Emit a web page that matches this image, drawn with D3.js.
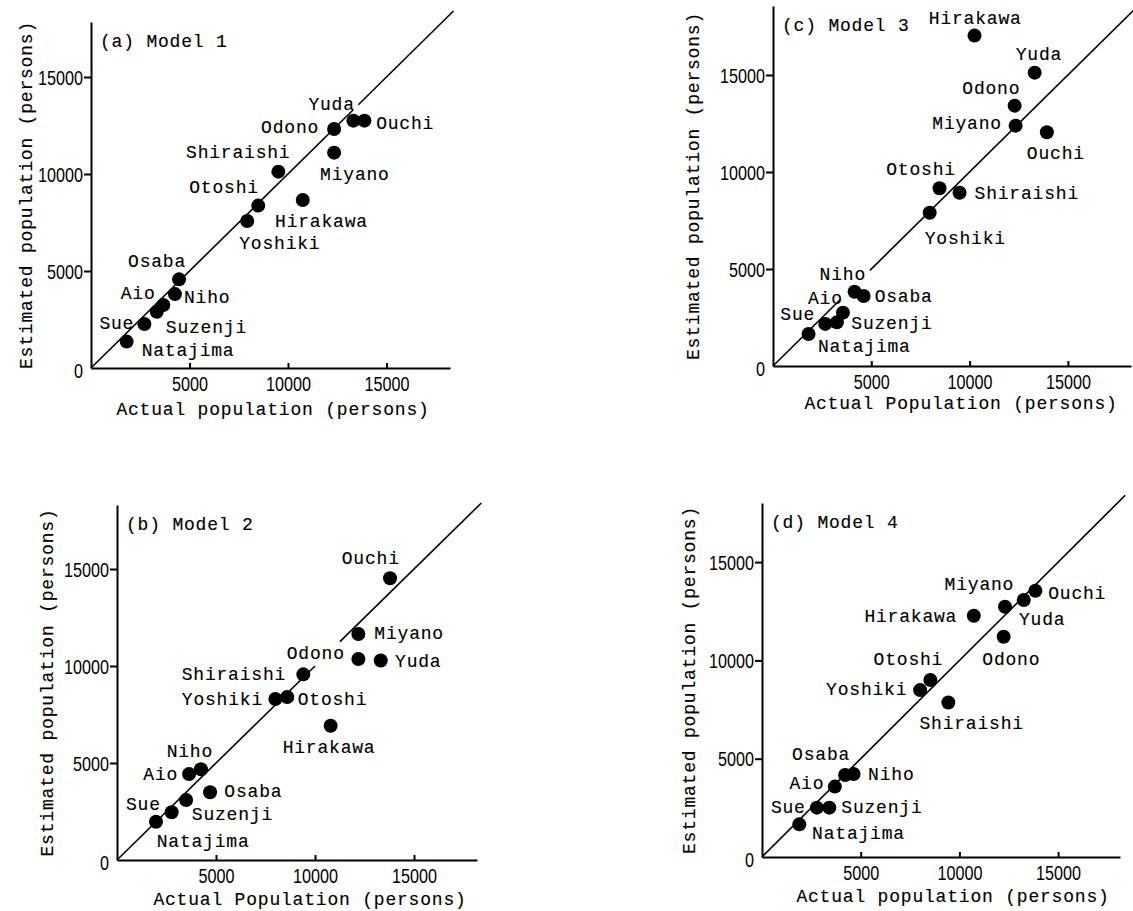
<!DOCTYPE html>
<html>
<head>
<meta charset="utf-8">
<script src="https://cdn.jsdelivr.net/npm/d3@7"></script>
<style>
body { margin: 0; background: #fff; }
svg { display: block; }
.lbl { font-family: "Liberation Mono", "DejaVu Sans Mono", monospace; font-size: 18px; letter-spacing: 0.8px; fill: #000; stroke: #000; stroke-width: 0.15px; }
.tick text { font-family: "Liberation Sans", Arial, sans-serif; font-size: 20px; fill: #000; }
.axis path, .axis line { stroke: #000; stroke-width: 2px; }
</style>
</head>
<body>
<script>
// towns, same order in every panel
const towns = ["Natajima", "Sue", "Suzenji", "Aio", "Niho", "Osaba", "Yoshiki", "Otoshi",
    "Shiraishi", "Hirakawa", "Odono", "Miyano", "Yuda", "Ouchi"];

// values (actual, estimated)
const actual1 = [1810, 2710, 3340, 3670, 4260, 4470, 7930, 8490, 9510, 10750, 12340, 12340, 13320, 13880];
const estimated1 = [1360, 2270, 2900, 3250, 3810, 4570, 7580, 8370, 10120, 8660, 12320, 11100, 12750, 12750];

const actual2 = [1970, 2760, 3490, 3640, 4240, 4700, 8000, 8600, 9410, 10790, 12190, 12190, 13320, 13790];
const estimated2 = [1970, 2460, 3090, 4430, 4680, 3490, 8300, 8400, 9570, 6920, 10360, 11650, 10280, 14520];

const actual3 = [1810, 2660, 3250, 3560, 4150, 4610, 7970, 8470, 9490, 10250, 12290, 12340, 13310, 13930];
const estimated3 = [1650, 2170, 2250, 2750, 3830, 3610, 7900, 9160, 8930, 17030, 13420, 12390, 15120, 12050];

const actual4 = [1890, 2780, 3410, 3690, 4210, 4640, 8010, 8530, 9440, 10730, 12240, 12310, 13260, 13850];
const estimated4 = [1660, 2510, 2510, 3580, 4170, 4220, 8490, 9000, 7860, 12270, 11200, 12730, 13070, 13540];

const panelTitles = ["(a) Model 1", "(b) Model 2", "(c) Model 3", "(d) Model 4"];
const xTitles = ["Actual population (persons)", "Actual Population (persons)",
    "Actual Population (persons)", "Actual population (persons)"];
const yTitle = "Estimated population (persons)";
const xTicks = [5000, 10000, 15000];
const yTicks = [0, 5000, 10000, 15000];

// where the 1:1 line is interrupted (x range, behind the labels)
const lineGaps = [[13300, 13570], [10000, 11260], [3400, 4930], null];
const lineEnd = 18400;

// label placement relative to the dot: [dx, dy] of text start / baseline
const labelPos1 = [[15, 14], [-45, 5], [9, 21], [-42.6, -6], [9, 9], [-51, -12.6], [-8, 27.7],
    [-69, -12.7], [-92.3, -13.7], [-27.7, 26.7], [-73, 4], [-14, 27.6], [-45, -11], [11.7, 8.6]];
const labelPos2 = [[0.7, 25.3], [-45.7, -2], [5.7, 20.3], [-45.7, 6.3], [-34.3, -12.3], [14.3, 4.7], [-93.6, 6.3],
    [10.4, 8.3], [-121.6, 6], [-48, 27.3], [-71.6, -0.3], [16, 4.7], [14.3, 6.3], [-48.3, -14.6]];
const labelPos3 = [[9.3, 18], [-45, -3.7], [14.4, 6.4], [-35, -9], [-35, -11.4], [11, 6], [-5, 31],
    [-53.3, -13], [15, 6.6], [-45.7, -12], [-52.3, -12], [-83.3, 3], [-19, -12.4], [-20, 26.4]];
const labelPos4 = [[12.8, 14.4], [-46, 5.3], [12, 5.3], [-45.4, 2], [23, 5.3], [-61.5, -13.7], [-94, 4.7],
    [-56.8, -15.3], [-28.9, 26.4], [-109.4, 6.3], [-21.3, 28], [-60.4, -16.4], [-4.8, 25.3], [12.8, 8]];

// panel frames in pixels
const frames = [
    {left: 91, bottom: 368, right: 450, top: 22, px5k: 98.5, py5k: 97, yTitleX: 32, xTitleX: 273, xTitleDy: 47},
    {left: 117, bottom: 860, right: 477, top: 505, px5k: 99, py5k: 97, yTitleX: 53, xTitleX: 310, xTitleDy: 45},
    {left: 773, bottom: 366, right: 1131, top: 6, px5k: 98.3, py5k: 97, yTitleX: 699, xTitleX: 961, xTitleDy: 43},
    {left: 762, bottom: 857, right: 1120, top: 503, px5k: 98.7, py5k: 98.3, yTitleX: 695, xTitleX: 953, xTitleDy: 45}
];

const fmt = d3.format("d");

const svg = d3.select("body").append("svg")
    .attr("width", 1133)
    .attr("height", 911);

function buildPanel(i, actual, estimated, labelPos) {
    const f = frames[i];
    const x = d3.scaleLinear()
        .domain([0, (f.right - f.left) / f.px5k * 5000])
        .range([f.left, f.right]);
    const y = d3.scaleLinear()
        .domain([0, (f.bottom - f.top) / f.py5k * 5000])
        .range([f.bottom, f.top]);
    const g = svg.append("g").attr("class", "panel");

    // axes
    const xa = g.append("g")
        .attr("class", "axis")
        .attr("transform", `translate(0,${f.bottom})`)
        .call(d3.axisBottom(x).tickValues(xTicks).tickFormat(fmt).tickSize(-5).tickSizeOuter(0).tickPadding(0));
    xa.selectAll(".tick text")
        .attr("y", 23)
        .attr("dy", null)
        .attr("textLength", d => fmt(d).length * 9)
        .attr("lengthAdjust", "spacingAndGlyphs");
    const ya = g.append("g")
        .attr("class", "axis")
        .attr("transform", `translate(${f.left},0)`)
        .call(d3.axisLeft(y).tickValues(yTicks).tickFormat(fmt).tickSize(7).tickSizeOuter(0).tickPadding(1));
    ya.selectAll(".tick").filter(d => d === 0).select("line").remove();
    ya.selectAll(".tick text")
        .attr("dy", "0.36em")
        .attr("textLength", d => fmt(d).length * 9)
        .attr("lengthAdjust", "spacingAndGlyphs");
    ya.selectAll(".tick").filter(d => d === 0).select("text").attr("dy", "0.45em");

    // 1:1 line, broken where a label sits on it
    const gap = lineGaps[i];
    const segs = gap ? [[0, gap[0]], [gap[1], lineEnd]] : [[0, lineEnd]];
    g.selectAll("line.diag")
        .data(segs)
        .join("line")
        .attr("class", "diag")
        .attr("x1", d => x(d[0])).attr("y1", d => y(d[0]))
        .attr("x2", d => x(d[1])).attr("y2", d => y(d[1]))
        .attr("stroke", "#000")
        .attr("stroke-width", 1.6);

    // dots
    const pts = towns.map((t, k) => ({name: t, ax: actual[k], est: estimated[k], off: labelPos[k]}));
    g.selectAll("circle")
        .data(pts)
        .join("circle")
        .attr("cx", d => x(d.ax))
        .attr("cy", d => y(d.est))
        .attr("r", 7)
        .attr("fill", "#000");
    g.selectAll("text.town")
        .data(pts)
        .join("text")
        .attr("class", "lbl town")
        .attr("x", d => x(d.ax) + d.off[0])
        .attr("y", d => y(d.est) + d.off[1])
        .text(d => d.name);

    // titles
    g.append("text")
        .attr("class", "lbl")
        .attr("x", f.left + 9)
        .attr("y", f.top + 25)
        .text(panelTitles[i]);
    g.append("text")
        .attr("class", "lbl")
        .attr("text-anchor", "middle")
        .attr("x", f.xTitleX)
        .attr("y", f.bottom + f.xTitleDy)
        .text(xTitles[i]);
    g.append("text")
        .attr("class", "lbl")
        .attr("text-anchor", "middle")
        .attr("transform", `translate(${f.yTitleX},${(f.top + f.bottom) / 2}) rotate(-90)`)
        .text(yTitle);
}

buildPanel(0, actual1, estimated1, labelPos1);
buildPanel(1, actual2, estimated2, labelPos2);
buildPanel(2, actual3, estimated3, labelPos3);
buildPanel(3, actual4, estimated4, labelPos4);
</script>
</body>
</html>
